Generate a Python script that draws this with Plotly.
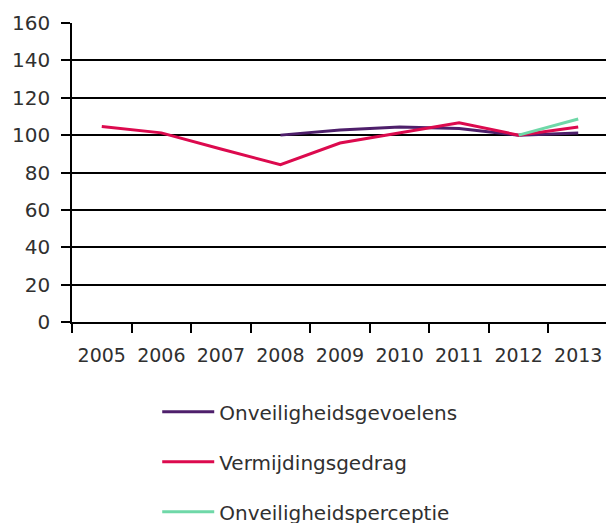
import plotly.graph_objects as go

years = ["2005", "2006", "2007", "2008", "2009", "2010", "2011", "2012", "2013"]
onveiligheidsgevoelens = [None, None, None, 100, 102.8, 104.3, 103.6, 100, 101.2]
vermijdingsgedrag = [104.6, 101.2, 92.6, 84.2, 95.8, 101.2, 106.6, 100, 104.4]
onveiligheidsperceptie = [None, None, None, None, None, None, None, 100, 108.6]
series_names = ["Onveiligheidsgevoelens", "Vermijdingsgedrag", "Onveiligheidsperceptie"]
colors = ["#4E1F6B", "#DC0A4E", "#6FD8A8"]
y_ticks = [0, 20, 40, 60, 80, 100, 120, 140, 160]

FONT = "DejaVu Sans"
TXT = "#303030"

fig = go.Figure()
for i, (name, vals) in enumerate(zip(series_names,
                                      [onveiligheidsgevoelens, vermijdingsgedrag, onveiligheidsperceptie])):
    fig.add_trace(go.Scatter(
        x=years, y=vals, name=name, mode="lines",
        line=dict(color=colors[i], width=3),
        legendgroup=f"g{i}", connectgaps=False,
    ))

# page body adds an 8px offset, so the figure is sized to fit the window
fig.update_layout(
    width=606, height=515,
    margin=dict(l=64, r=6, t=15, b=201),
    paper_bgcolor="white", plot_bgcolor="white",
    font=dict(family=FONT, size=19, color=TXT),
    showlegend=True,
    legend=dict(
        orientation="v", xref="paper", yref="container",
        x=0.159, xanchor="left", y=0.254, yanchor="top",
        font=dict(family=FONT, size=20, color=TXT),
        tracegroupgap=21, itemwidth=52,
        bgcolor="rgba(0,0,0,0)",
    ),
)
fig.update_xaxes(
    type="category", categoryorder="array", categoryarray=years,
    range=[-0.5, len(years) - 0.5],
    showgrid=False, showline=True, linecolor="black", linewidth=1.5,
    ticks="outside", tickson="boundaries", ticklen=9, tickcolor="black", tickwidth=1.5,
    tickfont=dict(family=FONT, size=19, color=TXT),
    ticklabelstandoff=15, automargin=False,
    zeroline=False,
)
fig.update_yaxes(
    range=[0, 160], tickvals=y_ticks, ticktext=[str(v) for v in y_ticks],
    showgrid=True, gridcolor="black", gridwidth=1.5,
    showline=True, linecolor="black", linewidth=1.5,
    ticks="outside", ticklen=9, tickcolor="black", tickwidth=1.5,
    tickfont=dict(family=FONT, size=20, color=TXT),
    ticklabelstandoff=7, automargin=False,
    zeroline=False,
)

fig.write_html("out.html")
